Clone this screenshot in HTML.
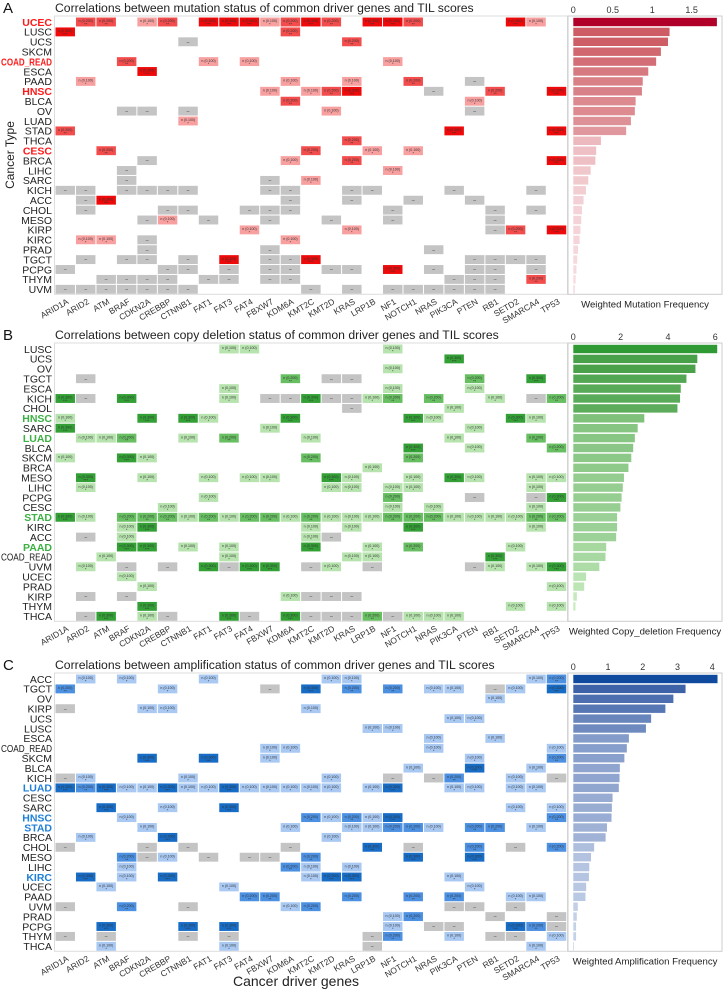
<!DOCTYPE html>
<html><head><meta charset="utf-8"><style>
html,body{margin:0;padding:0;background:#fff;}
svg{display:block;font-family:"Liberation Sans",Arial,sans-serif;}
</style></head><body>
<svg id="fig" width="723" height="992" viewBox="0 0 723 992" xmlns="http://www.w3.org/2000/svg"></svg>
<script>
const genes=["ARID1A","ARID2","ATM","BRAF","CDKN2A","CREBBP","CTNNB1","FAT1","FAT3","FAT4","FBXW7","KDM6A","KMT2C","KMT2D","KRAS","LRP1B","NF1","NOTCH1","NRAS","PIK3CA","PTEN","RB1","SETD2","SMARCA4","TP53"];

const rowsA=["UCEC","LUSC","UCS","SKCM","COAD_READ","ESCA","PAAD","HNSC","BLCA","OV","LUAD","STAD","THCA","CESC","BRCA","LIHC","SARC","KICH","ACC","CHOL","MESO","KIRP","KIRC","PRAD","TGCT","PCPG","THYM","UVM"];
const highlightA=["UCEC","COAD_READ","HNSC","CESC"];
const barsA=[1.82,1.22,1.20,1.11,1.05,0.95,0.88,0.87,0.79,0.78,0.73,0.67,0.35,0.29,0.28,0.22,0.19,0.16,0.13,0.11,0.10,0.09,0.08,0.06,0.05,0.04,0.03,0.02];
const ticksA=[0,0.5,1.0,1.5];
const cellsA=[[0,1,2],[0,2,2],[0,4,1],[0,5,2],[0,7,3],[0,8,3],[0,9,3],[0,10,1],[0,11,2],[0,12,3],[0,13,2],[0,15,3],[0,16,3],[0,17,2],[0,22,3],[0,23,1],
[1,0,3],[1,11,2],[2,6,0],[2,14,2],[4,3,2],[4,7,1],[4,9,1],[4,16,1],[5,4,3],[6,1,1],[6,11,1],[6,14,1],[6,17,2],[6,20,0],
[7,10,1],[7,12,1],[7,13,2],[7,14,3],[7,18,0],[7,21,2],[7,24,3],[8,11,2],[8,20,1],[9,3,0],[9,4,0],[9,6,0],[9,13,1],[9,20,0],[10,6,1],
[11,0,2],[11,19,3],[11,24,3],[12,14,2],[13,2,2],[13,12,2],[13,15,1],[13,17,1],[14,4,0],[14,11,1],[14,14,2],[14,24,3],[15,3,0],[15,16,1],
[16,3,0],[16,10,0],[16,12,1],[17,0,0],[17,1,0],[17,3,0],[17,4,0],[17,5,0],[17,6,0],[17,10,0],[17,11,0],[17,14,0],[17,15,0],[17,19,0],[17,23,0],
[18,1,0],[18,2,3],[18,11,0],[18,14,0],[18,17,0],[18,20,0],[19,1,0],[19,5,0],[19,6,0],[19,9,0],[19,10,0],[19,11,0],[19,16,0],[19,21,0],[19,23,0],
[20,4,0],[20,5,1],[20,7,0],[20,10,0],[20,13,0],[20,16,0],[20,21,0],[21,9,1],[21,14,1],[21,21,0],[21,22,2],[21,24,3],[22,1,1],[22,2,1],[22,4,0],[22,11,1],
[23,4,0],[23,10,0],[23,18,0],[24,1,0],[24,3,0],[24,4,0],[24,6,0],[24,8,3],[24,10,0],[24,11,0],[24,12,3],[24,20,0],[24,21,0],[24,22,0],[24,23,0],
[25,0,0],[25,5,0],[25,6,0],[25,8,0],[25,10,0],[25,11,0],[25,13,0],[25,14,0],[25,16,3],[25,18,0],[25,20,0],[25,21,0],[25,23,0],
[26,2,0],[26,3,0],[26,4,0],[26,5,0],[26,7,0],[26,8,0],[26,10,0],[26,11,0],[26,19,0],[26,20,0],[26,21,0],[26,23,2],
[27,0,0],[27,1,0],[27,2,0],[27,3,0],[27,4,0],[27,5,0],[27,6,0],[27,12,0],[27,14,0],[27,16,0],[27,17,0],[27,18,0],[27,19,0],[27,20,0],[27,21,0]];

const rowsB=["LUSC","UCS","OV","TGCT","ESCA","KICH","CHOL","HNSC","SARC","LUAD","BLCA","SKCM","BRCA","MESO","LIHC","PCPG","CESC","STAD","KIRC","ACC","PAAD","COAD_READ","UVM","UCEC","PRAD","KIRP","THYM","THCA"];
const highlightB=["HNSC","LUAD","STAD","PAAD"];
const barsB=[6.08,5.24,5.16,4.78,4.54,4.51,4.40,3.00,2.72,2.60,2.53,2.45,2.33,2.14,2.09,2.04,1.99,1.85,1.85,1.81,1.39,1.36,1.10,0.54,0.46,0.15,0.09,0.0];
const ticksB=[0,2,4,6];
const cellsB=[[0,8,1],[0,9,1],[0,16,1],[1,19,3],[2,16,1],[3,1,0],[3,11,2],[3,13,0],[3,14,0],[3,20,2],[3,23,3],[4,8,1],[4,16,1],[4,20,1],
[5,0,3],[5,1,0],[5,3,3],[5,8,1],[5,10,0],[5,11,0],[5,12,3],[5,13,0],[5,14,0],[5,15,1],[5,16,2],[5,18,2],[5,21,1],[5,23,0],[5,24,2],
[6,14,0],[6,19,1],[7,0,1],[7,4,3],[7,6,3],[7,7,1],[7,11,3],[7,17,3],[7,18,1],[7,22,3],[7,23,1],[8,0,3],[8,10,1],[8,20,1],
[9,1,1],[9,2,1],[9,3,2],[9,6,1],[9,8,2],[9,12,1],[9,19,1],[9,23,2],[10,17,3],[10,20,1],[10,24,2],[11,0,1],[11,3,3],[11,4,1],[11,12,2],[11,17,2],[12,15,1],
[13,1,3],[13,4,1],[13,7,1],[13,9,1],[13,10,1],[13,13,3],[13,14,1],[13,17,1],[13,19,3],[13,20,1],[13,23,1],[13,24,1],
[14,1,1],[14,13,1],[14,14,1],[14,16,1],[14,17,1],[14,23,1],[15,7,1],[15,16,2],[15,20,0],[15,23,0],[15,24,3],[16,5,1],[16,16,1],[16,18,1],[16,23,1],
[17,0,3],[17,1,1],[17,3,2],[17,4,2],[17,5,2],[17,6,1],[17,7,2],[17,8,1],[17,9,2],[17,10,2],[17,11,1],[17,12,2],[17,13,1],[17,14,1],[17,15,1],[17,16,2],[17,17,2],[17,18,2],[17,19,1],[17,20,1],[17,21,1],[17,22,1],[17,23,2],[17,24,2],
[18,3,1],[18,4,3],[18,12,1],[18,14,1],[18,17,3],[18,23,1],[19,1,0],[19,3,1],[19,12,1],[19,13,0],
[20,3,3],[20,4,3],[20,6,1],[20,8,1],[20,12,3],[20,15,1],[20,17,2],[20,22,1],[21,2,1],[21,8,1],[21,14,1],[21,15,1],[21,21,3],
[22,1,1],[22,3,0],[22,5,0],[22,7,3],[22,8,0],[22,9,3],[22,10,3],[22,12,0],[22,13,1],[22,15,0],[22,20,0],[22,21,1],[22,23,1],[22,24,3],
[23,3,1],[24,4,1],[24,24,1],[25,1,0],[25,3,0],[25,11,1],[25,12,0],[25,13,0],[25,14,0],[26,4,3],[26,22,1],[26,24,1],
[27,1,0],[27,2,3],[27,4,1],[27,5,0],[27,8,3],[27,9,0],[27,11,3],[27,12,0],[27,13,0],[27,14,0],[27,15,2],[27,16,0],[27,17,1],[27,18,1],[27,19,1]];

const rowsC=["ACC","TGCT","OV","KIRP","UCS","LUSC","ESCA","COAD_READ","SKCM","BLCA","KICH","LUAD","CESC","SARC","HNSC","STAD","BRCA","CHOL","MESO","LIHC","KIRC","UCEC","PAAD","UVM","PRAD","PCPG","THYM","THCA"];
const highlightC=["LUAD","HNSC","STAD","KIRC"];
const barsC=[4.15,3.23,2.88,2.65,2.24,2.09,1.60,1.54,1.47,1.34,1.33,1.31,1.13,1.11,1.10,0.97,0.93,0.60,0.51,0.46,0.45,0.37,0.35,0.13,0.10,0.08,0.08,0.02];
const ticksC=[0,1,2,3,4];
const cellsC=[[0,1,1],[0,3,1],[0,7,1],[0,13,1],[0,14,1],[0,23,1],[0,24,2],
[1,0,2],[1,5,1],[1,10,0],[1,12,3],[1,14,2],[1,16,2],[1,18,1],[1,19,1],[1,21,0],[1,22,1],[1,24,3],[2,21,1],
[3,0,0],[3,4,1],[3,5,1],[3,12,1],[4,19,1],[4,20,1],[5,15,1],[5,16,1],[6,18,1],[6,21,1],[7,10,1],[7,11,1],[7,18,1],[7,24,1],
[8,4,3],[8,7,3],[8,10,1],[8,20,1],[8,24,2],[9,17,1],[9,20,3],[9,23,1],
[10,0,0],[10,1,1],[10,6,1],[10,13,1],[10,16,0],[10,18,0],[10,19,2],[10,22,1],[10,24,0],
[11,0,3],[11,1,2],[11,2,3],[11,3,1],[11,4,1],[11,5,3],[11,6,1],[11,7,1],[11,8,3],[11,9,1],[11,10,1],[11,11,1],[11,12,1],[11,13,1],[11,15,1],[11,16,3],[11,19,1],[11,20,1],[11,22,1],[11,23,1],
[13,2,3],[13,5,1],[13,8,3],[13,22,1],[13,24,1],[14,3,1],[14,12,2],[14,13,1],[14,14,2],[14,15,1],[14,16,3],[14,24,2],
[15,4,1],[15,11,1],[15,14,1],[15,15,1],[15,16,2],[15,17,2],[15,18,1],[15,20,2],[15,21,2],[15,23,1],
[16,1,1],[16,5,3],[16,13,1],[17,0,0],[17,4,0],[17,6,0],[17,11,0],[17,15,3],[17,17,0],[17,20,2],[17,22,0],[17,24,2],
[18,3,2],[18,4,0],[18,5,1],[18,7,0],[18,9,0],[18,10,0],[18,12,2],[18,17,3],[18,20,3],
[19,3,1],[19,11,2],[19,12,1],[19,14,1],[20,1,3],[20,3,1],[20,5,3],[20,12,1],[20,13,3],[20,14,3],[20,19,1],
[21,2,1],[21,8,1],[21,20,1],[22,9,2],[22,10,2],[22,14,2],[22,17,2],[22,19,2],[22,22,1],[22,23,1],
[23,0,0],[23,3,2],[23,6,0],[23,11,1],[23,12,2],[23,19,0],[23,20,0],[23,22,0],
[24,16,1],[24,17,2],[24,21,0],[24,24,0],[25,2,3],[25,6,3],[25,8,3],[25,16,1],[25,18,0],[25,19,0],[25,22,3],[25,23,2],[25,24,0],
[26,0,0],[26,2,0],[26,6,0],[26,8,0],[26,15,0],[26,16,2],[26,19,1],[26,21,0],[26,22,0],[26,24,1],[27,2,1],[27,8,1],[27,15,0],[27,23,1]];

const NS="http://www.w3.org/2000/svg";
const svg=document.getElementById('fig');
function mk(tag,attrs,parent,text){const e=document.createElementNS(NS,tag);for(const k in attrs)e.setAttribute(k,attrs[k]);if(text!==undefined)e.textContent=text;(parent||svg).appendChild(e);return e;}

const HX0=55, CW=20.47, RH=9.9, BX0=573.3;
const stars=["","*","**","***"];

function panel(cfg){
  const g=mk('g',{});
  
  
  const y0=cfg.top, firstC=y0+6, n=cfg.rows.length, bottom=firstC+RH*(n-1)+5;
  const yC=i=>firstC+RH*i;
  const xC=j=>HX0+CW*j;
  const lt=mk('text',{x:3,y:y0-3,'font-size':15,fill:'#111'},g,cfg.letter);
  
  
  const tt=mk('text',{x:55,y:y0-4,'font-size':12.2,fill:'#222'},g,cfg.title);
  
  
  const fr=mk('rect',{x:54.5,y:y0,width:513,height:bottom-y0,fill:'none',stroke:'#ddd','stroke-width':1},g);
  
  
  cfg.cells.forEach(c=>{
    const [r,col,lv]=c;
    const x=xC(col)+0.5, y=yC(r)-RH/2+0.5;
    const fill=lv===0?'#c4c4c4':cfg.colors[lv];
    const rc=mk('rect',{x:x,y:y,width:CW-1,height:RH-1,fill:fill},g);
    
    
    const t=mk('text',{x:x+(CW-1)/2,y:y+(lv===0?6:4.6),'font-size':lv===0?5:3.6,'text-anchor':'middle',fill:'#333'},g,lv===0?'–':'n ('+(0.1*lv).toFixed(3)+')');
    
    
    if(lv>0){const s=mk('text',{x:x+(CW-1)/2,y:y+8,'font-size':4,'text-anchor':'middle',fill:'#333'},g,stars[lv]);
      
      }
  });
  cfg.rows.forEach((r,i)=>{
    const hl=cfg.hl.includes(r);
    const attrs={x:52,y:yC(i)+3.8,'font-size':10.5,'text-anchor':'end',fill:hl?cfg.hlColor:'#222','font-weight':hl?'bold':'normal'};
    if(r==='COAD_READ'){attrs.textLength=51;attrs.lengthAdjust='spacingAndGlyphs';}
    const t=mk('text',attrs,g,r);
    
    
  });
  genes.forEach((gn,j)=>{
    const cx=xC(j)+CW/2+4, cy=bottom+9;
    const t=mk('text',{x:cx,y:cy,'font-size':8.5,'text-anchor':'end',fill:'#333',transform:`rotate(-30 ${cx} ${cy})`},g,gn);
    
    
  });
  const bf=mk('rect',{x:568,y:y0,width:154,height:bottom-y0,fill:'none',stroke:'#ccc','stroke-width':1},g);
  
  
  const xs=v=>BX0+v*cfg.scale;
  cfg.ticks.forEach(tv=>{
    const t=mk('text',{x:xs(tv),y:y0-3,'font-size':9,'text-anchor':'middle',fill:'#333'},g,String(tv));
    
    
  });
  const vmax=cfg.bars[1];
  cfg.bars.forEach((v,i)=>{
    let fill;
    if(i===0) fill=cfg.barTop;
    else{const f=Math.max(0,Math.min(1,v/vmax));
      const a=cfg.barPale,b=cfg.barDark;
      fill=`rgb(${Math.round(a[0]+(b[0]-a[0])*f)},${Math.round(a[1]+(b[1]-a[1])*f)},${Math.round(a[2]+(b[2]-a[2])*f)})`;}
    const b=mk('rect',{x:BX0,y:yC(i)-4.2,width:Math.max(0,xs(v)-BX0),height:8.4,fill:fill},g);
    
    
  });
  const xt=mk('text',{x:645,y:bottom+13,'font-size':9.6,'text-anchor':'middle',fill:'#222'},g,cfg.barTitle);
  
  
}

panel({name:'mutation',letter:'A',top:16,title:'Correlations between mutation status of common driver genes and TIL scores',rows:rowsA,hl:highlightA,hlColor:'#ff1a1a',cells:cellsA,
 colors:[null,'#f8a0a0','#f24c4c','#ee0a0a'],bars:barsA,ticks:ticksA,scale:78.9,barTop:'#b0002a',barDark:[205,92,100],barPale:[248,222,226],barTitle:'Weighted Mutation Frequency'});
panel({name:'deletion',letter:'B',top:343,title:'Correlations between copy deletion status of common driver genes and TIL scores',rows:rowsB,hl:highlightB,hlColor:'#3cb043',cells:cellsB,
 colors:[null,'#b7e3ae','#67bf62','#33a036'],bars:barsB,ticks:ticksB,scale:23.67,barTop:'#2f9a34',barDark:[72,160,72],barPale:[200,236,192],barTitle:'Weighted Copy_deletion Frequency'});
panel({name:'amplification',letter:'C',top:673,title:'Correlations between amplification status of common driver genes and TIL scores',rows:rowsC,hl:highlightC,hlColor:'#1e7fd8',cells:cellsC,
 colors:[null,'#a9c9f3','#4c90e2','#176cc6'],bars:barsC,ticks:ticksC,scale:34.75,barTop:'#0f4a9e',barDark:[62,98,168],barPale:[200,212,234],barTitle:'Weighted Amplification Frequency'});

const yt=mk('text',{x:14,y:155,'font-size':12,'text-anchor':'middle',fill:'#222',transform:'rotate(-90 14 155)'},svg,'Cancer Type');


const xt=mk('text',{x:296,y:986,'font-size':14,'text-anchor':'middle',fill:'#222'},svg,'Cancer driver genes');


</script>
</body></html>
